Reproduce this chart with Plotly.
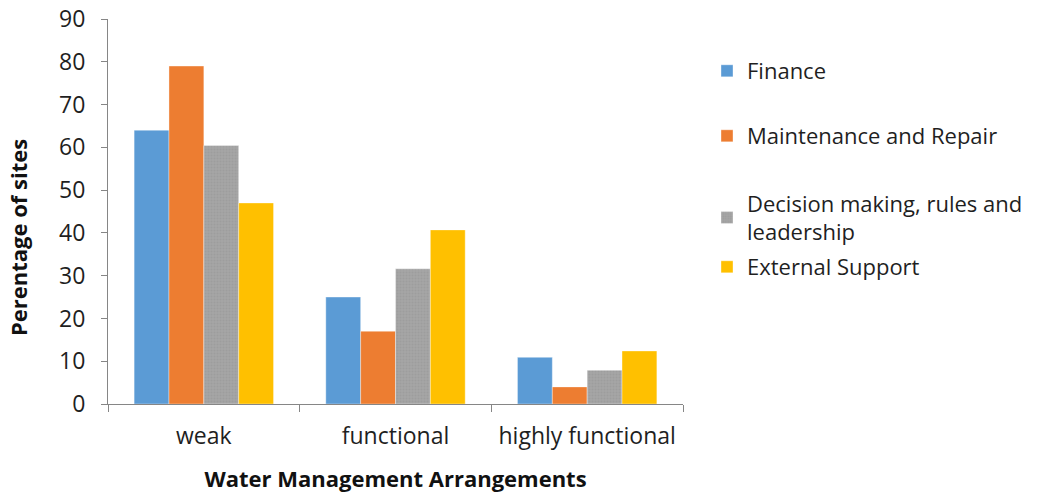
import plotly.graph_objects as go

categories = ["weak", "functional", "highly functional"]
finance = [64.0, 25.0, 10.9]
maintenance = [79.0, 17.0, 4.0]
decision = [60.4, 31.6, 7.9]
external = [47.0, 40.7, 12.4]

series_names = [
    "Finance",
    "Maintenance and Repair",
    "Decision making, rules and<br>leadership",
    "External Support",
]
series_values = [finance, maintenance, decision, external]
colors = ["#5B9BD5", "#ED7D31", "#A5A5A5", "#FFC000"]
legend_ids = ["legend", "legend2", "legend3", "legend4"]
legend_ypix = [71, 136, 218, 267]

W, H = 1040, 496
FONT = "Open Sans"
TEXT = "#1f1f1f"

fig = go.Figure()
for name, vals, col, lg in zip(series_names, series_values, colors, legend_ids):
    marker = dict(color=col, line=dict(color="rgba(255,255,255,0.6)", width=0.6))
    if col == "#A5A5A5":
        marker["pattern"] = dict(shape=".", fgcolor="#969696", bgcolor=col,
                                 size=3, solidity=0.35)
    fig.add_trace(go.Bar(x=categories, y=vals, name=name, marker=marker,
                         legend=lg, showlegend=True))

layout_legends = {}
for lg, yp in zip(legend_ids, legend_ypix):
    layout_legends[lg] = dict(
        xref="container", yref="container",
        x=707 / W, y=1 - yp / H, xanchor="left", yanchor="middle",
        font=dict(family=FONT, size=22, color=TEXT),
        bgcolor="rgba(0,0,0,0)", itemwidth=30, tracegroupgap=0,
        visible=True,
    )

axis_line = "#868686"
fig.update_layout(
    width=W, height=H,
    showlegend=True,
    margin=dict(l=108, r=W - 683, t=19, b=H - 404),
    paper_bgcolor="white", plot_bgcolor="white",
    barmode="group", bargap=1.5 / 5.5, bargroupgap=0,
    font=dict(family=FONT, size=22, color=TEXT),
    xaxis=dict(
        type="category", tickson="boundaries", ticks="outside", ticklen=7,
        tickcolor=axis_line, showline=True, linecolor=axis_line, linewidth=1,
        showgrid=False, ticklabelstandoff=11, automargin=False,
        tickfont=dict(family=FONT, size=23, color=TEXT),
        title=dict(text="<b>Water Management Arrangements</b>",
                   font=dict(family=FONT, size=22, color="#111111"),
                   standoff=22),
    ),
    yaxis=dict(
        range=[0, 90], dtick=10, ticks="outside", ticklen=6,
        tickcolor=axis_line, showline=True, linecolor=axis_line, linewidth=1,
        showgrid=False, zeroline=False, ticklabelstandoff=11, automargin=False,
        tickfont=dict(family=FONT, size=23, color=TEXT),
    ),
    annotations=[dict(
        text="<b>Perentage of sites</b>", textangle=-90,
        xref="paper", yref="paper",
        x=-(108 - 18) / 575, y=(404 - 238) / 385,
        xanchor="center", yanchor="middle", showarrow=False,
        font=dict(family=FONT, size=22, color="#111111"),
    )],
    **layout_legends,
)

fig.write_html("out.html")
